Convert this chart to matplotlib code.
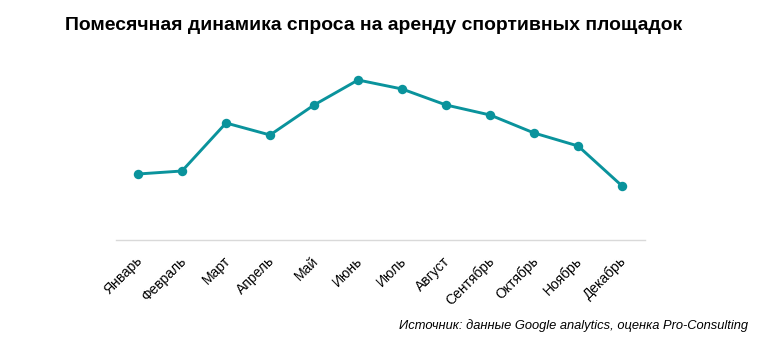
import matplotlib
matplotlib.use("Agg")
import matplotlib.pyplot as plt
import matplotlib.transforms as mtransforms

plt.rcParams['font.family'] = ['Liberation Sans', 'DejaVu Sans']

months = ["Январь", "Февраль", "Март", "Апрель", "Май", "Июнь",
          "Июль", "Август", "Сентябрь", "Октябрь", "Ноябрь", "Декабрь"]
demand = [66, 69, 117, 105, 135, 160, 151, 135, 125, 107, 94, 54]

W, H = 775, 341
fig = plt.figure(figsize=(W / 100, H / 100), dpi=100)
ax = fig.add_axes([116 / W, 1 - 240 / H, (645 - 116) / W, 180 / H])

x = list(range(len(months)))
ax.plot(x, demand, color="#0A939C", lw=2.1, marker="o", ms=6.8,
        markeredgewidth=0, solid_capstyle="round")

ax.set_xlim(-0.5, 11.52)
ax.set_ylim(0, 180)
ax.set_yticks([])
for side in ("top", "right", "left"):
    ax.spines[side].set_visible(False)
ax.spines["bottom"].set_color("#d9d9d9")
ax.spines["bottom"].set_linewidth(1.0)
ax.tick_params(axis="x", length=0, pad=10)
ax.set_xticks(x)
ax.set_xticklabels(months, rotation=45, ha="right", va="top",
                   rotation_mode="anchor", fontsize=10, color="#000000")
shift = mtransforms.ScaledTranslation(-3 / 100, 0, fig.dpi_scale_trans)
for lbl in ax.get_xticklabels():
    lbl.set_transform(lbl.get_transform() + shift)

fig.text(65 / W, 1 - 25 / H, "Помесячная динамика спроса на аренду спортивных площадок",
         fontsize=13.95, fontweight="bold", ha="left", va="center")
fig.text(748 / W, 1 - 326 / H, "Источник: данные Google analytics, оценка Pro-Consulting",
         fontsize=9.3, style="italic", ha="right", va="center")

fig.savefig("out.png", dpi=100)
